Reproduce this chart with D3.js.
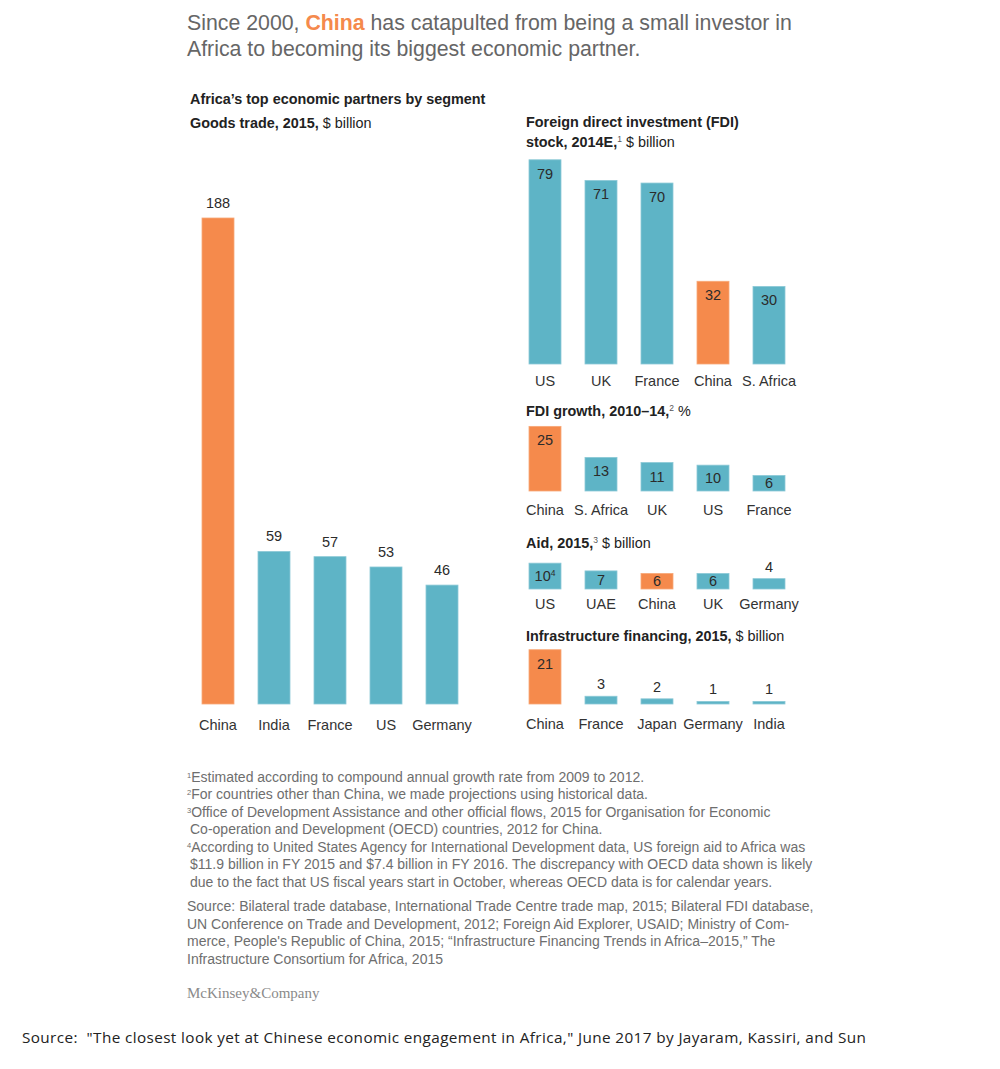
<!DOCTYPE html>
<html>
<head>
<meta charset="utf-8">
<script src="https://cdn.jsdelivr.net/npm/d3@7"></script>
<style>
  body { margin: 0; background: #fff; }
  svg text { font-family: "Liberation Sans", Arial, sans-serif; }
</style>
</head>
<body>
<svg id="chart" width="1000" height="1069"></svg>
<script>
// Goods trade, 2015, $ billion
const tradeCats = ["China", "India", "France", "US", "Germany"];
const tradeVals = [188, 59, 57, 53, 46];
// FDI stock, 2014E, $ billion
const fdiCats = ["US", "UK", "France", "China", "S. Africa"];
const fdiVals = [79, 71, 70, 32, 30];
// FDI growth, 2010-14, %
const growthCats = ["China", "S. Africa", "UK", "US", "France"];
const growthVals = [25, 13, 11, 10, 6];
// Aid, 2015, $ billion
const aidCats = ["US", "UAE", "China", "UK", "Germany"];
const aidVals = [10, 7, 6, 6, 4];
const aidNotes = ["4", "", "", "", ""];
// Infrastructure financing, 2015, $ billion
const infraCats = ["China", "France", "Japan", "Germany", "India"];
const infraVals = [21, 3, 2, 1, 1];

const footnotes = [
  ["1", "Estimated according to compound annual growth rate from 2009 to 2012."],
  ["2", "For countries other than China, we made projections using historical data."],
  ["3", "Office of Development Assistance and other official flows, 2015 for Organisation for Economic"],
  ["", "Co-operation and Development (OECD) countries, 2012 for China."],
  ["4", "According to United States Agency for International Development data, US foreign aid to Africa was"],
  ["", "$11.9 billion in FY 2015 and $7.4 billion in FY 2016. The discrepancy with OECD data shown is likely"],
  ["", "due to the fact that US fiscal years start in October, whereas OECD data is for calendar years."]
];
const sourceLines = [
  "Source: Bilateral trade database, International Trade Centre trade map, 2015; Bilateral FDI database,",
  "UN Conference on Trade and Development, 2012; Foreign Aid Explorer, USAID; Ministry of Com-",
  "merce, People's Republic of China, 2015; \u201CInfrastructure Financing Trends in Africa\u20132015,\u201D The",
  "Infrastructure Consortium for Africa, 2015"
];

const orange = "#f58a4c";
const teal = "#5eb4c6";
const svg = d3.select("#chart");

// one scale for all panels: bar height per value
const h = d3.scaleLinear().domain([0, 188]).range([0, 486]);

// Title
const title = svg.append("text").attr("x", 187).attr("y", 30)
  .style("font-size", "21.3px").style("fill", "#666");
title.append("tspan").text("Since 2000, ");
title.append("tspan").text("China").style("fill", orange).style("font-weight", "bold");
title.append("tspan").text(" has catapulted from being a small investor in");
svg.append("text").attr("x", 187).attr("y", 56)
  .style("font-size", "21.3px").style("fill", "#666")
  .text("Africa to becoming its biggest economic partner.");

// panel headers: parts [text, bold, sup]
function header(x, y, parts) {
  const t = svg.append("text").attr("x", x).attr("y", y)
    .style("font-size", "14.4px").style("fill", "#222");
  parts.forEach(p => {
    if (p.sup) {
      t.append("tspan").text(p.t).attr("dy", -5).style("font-size", "8.5px").style("fill", "#555");
      t.append("tspan").text(" ").attr("dy", 5);
    } else {
      t.append("tspan").text(p.t).style("font-weight", p.b ? "bold" : "normal");
    }
  });
}

header(190, 104, [{ t: "Africa\u2019s top economic partners by segment", b: true }]);
header(190, 128, [{ t: "Goods trade, 2015,", b: true }, { t: " $ billion" }]);
header(526, 127, [{ t: "Foreign direct investment (FDI)", b: true }]);
header(526, 147, [{ t: "stock, 2014E,", b: true }, { t: "1", sup: true }, { t: "$ billion" }]);
header(526, 416, [{ t: "FDI growth, 2010\u201314,", b: true }, { t: "2", sup: true }, { t: "%" }]);
header(526, 548, [{ t: "Aid, 2015,", b: true }, { t: "3", sup: true }, { t: "$ billion" }]);
header(526, 641, [{ t: "Infrastructure financing, 2015,", b: true }, { t: " $ billion" }]);

// draw one bar panel
function panel(cats, vals, x0, base, labelY, opts) {
  const x = d3.scaleBand().domain(d3.range(cats.length))
    .range([x0, x0 + 280]).paddingInner(0.4286).paddingOuter(0.2143);
  const g = svg.append("g");

  g.selectAll("rect").data(vals).enter().append("rect")
    .attr("x", (d, i) => x(i))
    .attr("width", x.bandwidth())
    .attr("y", d => base - h(d))
    .attr("height", d => h(d))
    .attr("fill", (d, i) => cats[i] === "China" ? orange : teal)
    .attr("stroke", (d, i) => cats[i] === "China" ? "#f8a878" : "#8cc9d6")
    .attr("stroke-width", 0.8);

  g.selectAll(".val").data(vals).enter().append("text")
    .attr("class", "val")
    .attr("x", (d, i) => x(i) + x.bandwidth() / 2)
    .attr("y", d => {
      const bh = h(d);
      if (!opts.above && d >= 5) return base - bh + Math.min(19, bh / 2 + 5);
      return base - bh - opts.gap;
    })
    .attr("text-anchor", "middle")
    .style("font-size", "14.5px").style("fill", "#2b2b2b")
    .each(function (d, i) {
      const t = d3.select(this);
      t.append("tspan").text(d);
      if (opts.notes && opts.notes[i]) {
        t.append("tspan").text(opts.notes[i]).attr("dy", -5).style("font-size", "8.5px");
      }
    });

  g.selectAll(".cat").data(cats).enter().append("text")
    .attr("class", "cat")
    .attr("x", (d, i) => x(i) + x.bandwidth() / 2)
    .attr("y", labelY)
    .attr("text-anchor", "middle")
    .style("font-size", "14.5px").style("fill", "#333")
    .text(d => d);
}

panel(tradeCats, tradeVals, 190, 704, 730, { above: true, gap: 10 });
panel(fdiCats, fdiVals, 517, 364, 386, { gap: 7 });
panel(growthCats, growthVals, 517, 491, 515, { gap: 7 });
panel(aidCats, aidVals, 517, 589, 609, { gap: 7, notes: aidNotes });
panel(infraCats, infraVals, 517, 704, 729, { gap: 7 });

// footnotes
const fy = [782, 799, 817, 834, 852, 869, 887];
footnotes.forEach((f, i) => {
  const t = svg.append("text").attr("x", f[0] ? 187 : 190).attr("y", fy[i])
    .style("font-size", "14px").style("fill", "#6e6e6e");
  if (f[0]) {
    t.append("tspan").text(f[0]).attr("dy", -4).style("font-size", "7.5px");
    t.append("tspan").text(f[1]).attr("dy", 4);
  } else {
    t.text(f[1]);
  }
});
sourceLines.forEach((s, i) => {
  svg.append("text").attr("x", 187).attr("y", 911 + i * 17.7)
    .style("font-size", "14px").style("fill", "#6e6e6e").text(s);
});

svg.append("text").attr("x", 187).attr("y", 998)
  .style("font-family", "'Liberation Serif', 'DejaVu Serif', serif")
  .style("font-size", "15px").style("fill", "#8a8a8a")
  .text("McKinsey&Company");

svg.append("text").attr("x", 22).attr("y", 1043)
  .style("font-family", "'Open Sans', sans-serif")
  .style("font-size", "15.3px").style("fill", "#222")
  .style("white-space", "pre")
  .attr("textLength", 844).attr("lengthAdjust", "spacing")
  .text("Source:  \"The closest look yet at Chinese economic engagement in Africa,\" June 2017 by Jayaram, Kassiri, and Sun");
</script>
</body>
</html>
